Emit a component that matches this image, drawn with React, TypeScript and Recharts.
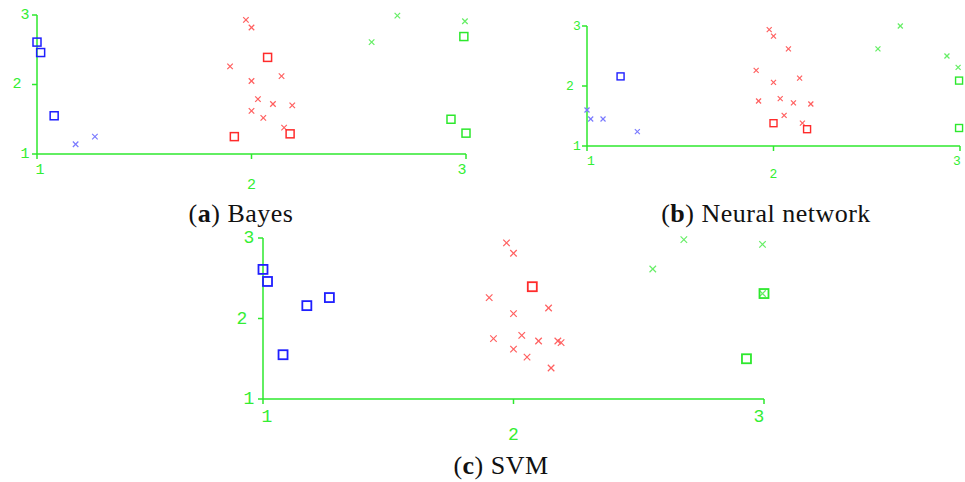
import React from 'react';
import { ScatterChart, Scatter, XAxis, YAxis } from 'recharts';

type Pt = [number, number];

const TICKS = [1, 2, 3];
const TICK_LABELS = ['1', '2', '3'];

// (a) Bayes
const bayesBlueSquares: Pt[] = [[1.0, 2.61], [1.017, 2.46], [1.08, 1.55]];
const bayesBlueCrosses: Pt[] = [[1.18, 1.14], [1.27, 1.25]];
const bayesRedSquares: Pt[] = [[2.075, 2.39], [1.92, 1.25], [2.18, 1.29]];
const bayesRedCrosses: Pt[] = [
  [1.974, 2.93], [2.0, 2.82], [1.9, 2.26], [2.0, 2.05], [2.14, 2.12], [2.03, 1.79],
  [2.1, 1.72], [2.19, 1.7], [2.0, 1.62], [2.055, 1.52], [2.152, 1.38],
];
const bayesGreenSquares: Pt[] = [[2.99, 2.69], [2.93, 1.5], [3.0, 1.3]];
const bayesGreenCrosses: Pt[] = [[2.68, 2.99], [2.56, 2.61], [2.995, 2.91]];

// (b) Neural network
const nnBlueSquares: Pt[] = [[1.18, 2.16]];
const nnBlueCrosses: Pt[] = [[1.0, 1.6], [1.02, 1.45], [1.086, 1.45], [1.27, 1.24]];
const nnRedSquares: Pt[] = [[2.0, 1.38], [2.18, 1.28]];
const nnRedCrosses: Pt[] = [
  [1.977, 2.94], [2.0, 2.83], [2.08, 2.62], [1.907, 2.26], [2.0, 2.06], [2.14, 2.13],
  [1.92, 1.75], [2.036, 1.79], [2.107, 1.72], [2.2, 1.7], [2.057, 1.51], [2.155, 1.38],
];
const nnGreenSquares: Pt[] = [[2.995, 2.09], [2.995, 1.3]];
const nnGreenCrosses: Pt[] = [[2.68, 3.0], [2.56, 2.62], [2.93, 2.5], [2.99, 2.31]];

// (c) SVM
const svmBlueSquares: Pt[] = [[1.0, 2.61], [1.018, 2.46], [1.175, 2.16], [1.265, 2.26], [1.08, 1.55]];
const svmBlueCrosses: Pt[] = [];
const svmRedSquares: Pt[] = [[2.075, 2.395]];
const svmRedCrosses: Pt[] = [
  [1.972, 2.94], [2.0, 2.81], [1.903, 2.26], [2.0, 2.06], [2.14, 2.13], [1.92, 1.75],
  [2.033, 1.79], [2.1, 1.72], [2.177, 1.72], [2.19, 1.7], [2.0, 1.62], [2.054, 1.52], [2.15, 1.385],
];
const svmGreenSquares: Pt[] = [[3.0, 2.31], [2.93, 1.5]];
const svmGreenCrosses: Pt[] = [[2.68, 2.98], [2.556, 2.615], [2.994, 2.92], [2.994, 2.31]];

const AXIS = '#2ee82e';
const LABEL = '#33ee33';
const COLORS = {
  blueSq: '#1f1fff',
  blueX: '#7a7aff',
  redSq: '#ff2b2b',
  redX: '#ff6060',
  greenSq: '#2de82d',
  greenX: '#66ee66',
};

const toPts = (arr: Pt[]) => arr.map(([x, y]) => ({ x, y }));

const squareShape = (color: string, s: number, sw: number) => (p: any) => (
  <rect x={p.cx - s / 2} y={p.cy - s / 2} width={s} height={s} fill="none" stroke={color} strokeWidth={sw} />
);

const crossShape = (color: string, s: number) => (p: any) => {
  const h = s / 2;
  return (
    <g stroke={color} strokeWidth={1.2}>
      <line x1={p.cx - h} y1={p.cy - h} x2={p.cx + h} y2={p.cy + h} />
      <line x1={p.cx - h} y1={p.cy + h} x2={p.cx + h} y2={p.cy - h} />
    </g>
  );
};

interface PanelProps {
  box: [number, number, number, number];
  font: number;
  yDx: number[];
  xDx: number[];
  xDy: number[];
  sq: number;
  sqStroke: number;
  cross: number;
  blueSq: Pt[];
  blueX: Pt[];
  redSq: Pt[];
  redX: Pt[];
  greenSq: Pt[];
  greenX: Pt[];
}

const Panel: React.FC<PanelProps> = (props) => {
  const [x0, y0, x1, y1] = props.box;
  const padL = 40, padR = 15, padT = 12, padB = 45;
  const W = x1 - x0 + padL + padR;
  const H = y1 - y0 + padT + padB;
  const bottom = H - padB;

  const labelStyle = { fontFamily: '"Liberation Mono", monospace', fontSize: props.font, fill: LABEL };

  const xTick = (t: any) => {
    const i = TICKS.indexOf(t.payload.value);
    return (
      <text x={t.x + props.xDx[i]} y={bottom + props.xDy[i]} textAnchor="middle" dominantBaseline="central" {...labelStyle}>
        {TICK_LABELS[i]}
      </text>
    );
  };
  const yTick = (t: any) => {
    const i = TICKS.indexOf(t.payload.value);
    return (
      <text x={padL + props.yDx[i]} y={t.y} textAnchor="middle" dominantBaseline="central" {...labelStyle}>
        {TICK_LABELS[i]}
      </text>
    );
  };

  return (
    <div style={{ position: 'absolute', left: x0 - padL, top: y0 - padT }}>
      <ScatterChart width={W} height={H} margin={{ top: padT, right: padR, left: 0, bottom: 0 }}>
        <XAxis
          type="number"
          dataKey="x"
          domain={[1, 3]}
          ticks={TICKS}
          height={padB}
          tickSize={5}
          axisLine={{ stroke: AXIS, strokeWidth: 1.5 }}
          tickLine={{ stroke: AXIS, strokeWidth: 1.5 }}
          tick={xTick}
        />
        <YAxis
          type="number"
          dataKey="y"
          domain={[1, 3]}
          ticks={TICKS}
          width={padL}
          tickSize={5}
          axisLine={{ stroke: AXIS, strokeWidth: 1.5 }}
          tickLine={{ stroke: AXIS, strokeWidth: 1.5 }}
          tick={yTick}
        />
        <Scatter data={toPts(props.blueX)} shape={crossShape(COLORS.blueX, props.cross)} isAnimationActive={false} />
        <Scatter data={toPts(props.redX)} shape={crossShape(COLORS.redX, props.cross)} isAnimationActive={false} />
        <Scatter data={toPts(props.greenX)} shape={crossShape(COLORS.greenX, props.cross)} isAnimationActive={false} />
        <Scatter data={toPts(props.blueSq)} shape={squareShape(COLORS.blueSq, props.sq, props.sqStroke)} isAnimationActive={false} />
        <Scatter data={toPts(props.redSq)} shape={squareShape(COLORS.redSq, props.sq, props.sqStroke)} isAnimationActive={false} />
        <Scatter data={toPts(props.greenSq)} shape={squareShape(COLORS.greenSq, props.sq, props.sqStroke)} isAnimationActive={false} />
      </ScatterChart>
    </div>
  );
};

const Caption: React.FC<{ cx: number; baseline: number; tag: string; text: string }> = ({ cx, baseline, tag, text }) => (
  <div
    style={{
      position: 'absolute',
      left: cx - 200,
      width: 400,
      top: baseline - 22,
      textAlign: 'center',
      fontFamily: '"Liberation Serif", serif',
      fontSize: 26,
      lineHeight: '26px',
      letterSpacing: 0.5,
      color: '#111',
      whiteSpace: 'nowrap',
    }}
  >
    (<b>{tag}</b>) {text}
  </div>
);

export default function App() {
  return (
    <div style={{ position: 'absolute', left: 0, top: 0, width: 965, height: 482, background: '#fff', overflow: 'hidden' }}>
      <Panel
        box={[37, 15, 466, 154]}
        font={15}
        yDx={[-12, -20, -12]}
        xDx={[3, 0, -4]}
        xDy={[16, 31, 16]}
        sq={8}
        sqStroke={1.5}
        cross={5.5}
        blueSq={bayesBlueSquares}
        blueX={bayesBlueCrosses}
        redSq={bayesRedSquares}
        redX={bayesRedCrosses}
        greenSq={bayesGreenSquares}
        greenX={bayesGreenCrosses}
      />
      <Panel
        box={[587, 26, 960, 146]}
        font={13}
        yDx={[-10, -17, -10]}
        xDx={[4, 0, -3]}
        xDy={[15, 28, 15]}
        sq={7}
        sqStroke={1.4}
        cross={5}
        blueSq={nnBlueSquares}
        blueX={nnBlueCrosses}
        redSq={nnRedSquares}
        redX={nnRedCrosses}
        greenSq={nnGreenSquares}
        greenX={nnGreenCrosses}
      />
      <Panel
        box={[263, 238, 764, 399]}
        font={18}
        yDx={[-14, -21, -14]}
        xDx={[4, 0, -5]}
        xDy={[18, 36, 18]}
        sq={9}
        sqStroke={1.8}
        cross={6.5}
        blueSq={svmBlueSquares}
        blueX={svmBlueCrosses}
        redSq={svmRedSquares}
        redX={svmRedCrosses}
        greenSq={svmGreenSquares}
        greenX={svmGreenCrosses}
      />
      <Caption cx={241} baseline={223} tag="a" text="Bayes" />
      <Caption cx={766} baseline={223} tag="b" text="Neural network" />
      <Caption cx={501} baseline={475} tag="c" text="SVM" />
    </div>
  );
}
